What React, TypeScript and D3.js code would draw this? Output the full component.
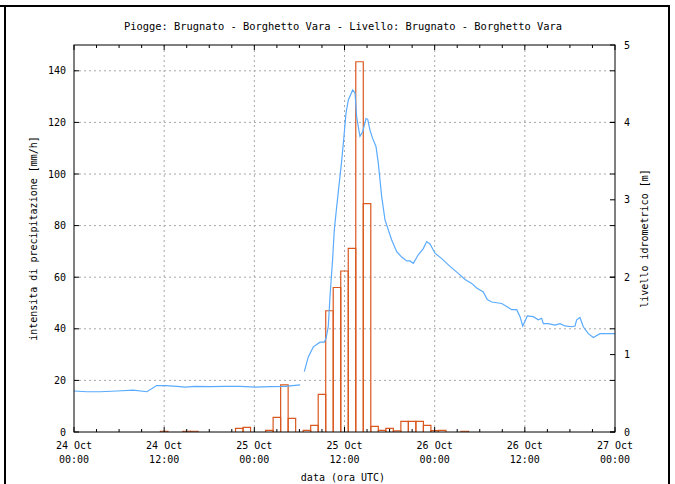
import React from "react";
import * as d3 from "d3";

// ---- data ----
const baseDate = Date.UTC(2011, 9, 24, 0, 0);
const title = "Piogge: Brugnato - Borghetto Vara - Livello: Brugnato - Borghetto Vara";
const yLabel = "intensita di precipitazione [mm/h]";
const y2Label = "livello idrometrico [m]";
const xLabel = "data (ora UTC)";

// hourly rain (hours from 24 Oct 00:00 UTC, mm/h)
const rainHours = [12, 15, 16, 22, 23, 26, 27, 28, 29, 31, 32, 33, 34, 35, 36, 37, 38, 39, 40, 41, 42, 43, 44, 45, 46, 47, 48, 49, 52];
const rainValues = [0.3, 0.3, 0.3, 1.4, 1.8, 0.6, 5.7, 18.3, 5.3, 0.6, 2.6, 14.6, 47, 56, 62.4, 71.2, 143.5, 88.5, 2.2, 0.6, 1.4, 0.4, 4.1, 4.1, 4.1, 2.6, 0.5, 0.6, 0.3];

// water level (hours from 24 Oct 00:00 UTC, m); null = data gap
const levelHours = [
  0, 1.7, 3.5, 5.7, 7.9, 9.7, 11.0, 12.2, 13.7, 14.8, 16.1, 18.1, 20.1, 22.1, 24.1, 26.1, 28.1, 29.1, 30.1,
  30.4,
  30.65, 31.18, 31.85, 32.74, 33.31, 33.54, 33.84, 34.07, 34.43, 34.64, 34.96, 35.63, 35.93, 36.2, 36.51,
  37.09, 37.4, 37.62, 37.84, 38.06, 38.42, 38.86, 39.09, 39.39, 39.75, 40.19, 40.5, 40.95, 41.39, 42.28,
  42.95, 43.61, 44.28, 44.72, 45.16, 45.82, 46.49, 46.94, 47.38, 48.04, 48.94, 50.04, 51.14, 52.04, 52.93,
  53.59, 54.47, 55.0, 55.59, 56.92, 57.8, 58.25, 58.92, 59.36, 59.72, 60.02, 60.33, 61.13, 61.79, 62.24,
  62.46, 63.12, 64.01, 64.68, 65.34, 66.24, 66.68, 66.9, 67.34, 67.78, 68.45, 69.11, 70.0, 72.0,
];
const levelValues: (number | null)[] = [
  0.53, 0.52, 0.52, 0.53, 0.54, 0.52, 0.6, 0.6, 0.59, 0.58, 0.59, 0.585, 0.59, 0.59, 0.58, 0.585, 0.59, 0.6, 0.61,
  null,
  0.78, 0.97, 1.1, 1.16, 1.16, 1.21, 1.36, 1.75, 2.25, 2.61, 2.91, 3.51, 3.82, 4.12, 4.29,
  4.42, 4.38, 4.07, 3.94, 3.82, 3.88, 4.05, 4.04, 3.9, 3.79, 3.69, 3.47, 3.04, 2.74, 2.48,
  2.33, 2.26, 2.21, 2.21, 2.18, 2.29, 2.37, 2.46, 2.43, 2.31, 2.24, 2.14, 2.05, 1.97, 1.92,
  1.86, 1.81, 1.71, 1.68, 1.66, 1.61, 1.58, 1.58, 1.49, 1.37, 1.43, 1.5, 1.49, 1.45, 1.47,
  1.4, 1.4, 1.38, 1.4, 1.37, 1.36, 1.37, 1.45, 1.48, 1.36, 1.27, 1.22, 1.27, 1.27,
];

const xTickHours = [0, 12, 24, 36, 48, 60, 72];
const xMinorHours = d3.range(0, 73, 3);
const yTicks = [0, 20, 40, 60, 80, 100, 120, 140];
const y2Ticks = [0, 1, 2, 3, 4, 5];

const W = 675, H = 484;
const m = { left: 74, right: 615, top: 45, bottom: 432 };
const FONT = "'DejaVu Sans Mono', monospace";

const hourToDate = (h: number) => new Date(baseDate + h * 3600 * 1000);

export default function App() {
  const x = d3.scaleUtc().domain([hourToDate(0), hourToDate(72)]).range([m.left, m.right]);
  const y = d3.scaleLinear().domain([0, 150]).range([m.bottom, m.top]);
  const y2 = d3.scaleLinear().domain([0, 5]).range([m.bottom, m.top]);
  const fmtDay = d3.utcFormat("%d %b");
  const fmtHour = d3.utcFormat("%H:%M");

  const levelData = levelHours.map((h, i) => ({ t: hourToDate(h), v: levelValues[i] }));
  const line = d3
    .line<{ t: Date; v: number | null }>()
    .defined((d) => d.v !== null)
    .x((d) => x(d.t))
    .y((d) => y2(d.v as number));

  const grid = "#a8a8a8";
  return (
    <svg width={W} height={H} style={{ position: "absolute", left: 0, top: 0, background: "#fff" }}>
      <rect x={0} y={0} width={W} height={H} fill="#fff" />
      {/* outer frame */}
      <line x1={0} y1={6} x2={670} y2={6} stroke="#000" strokeWidth={2} />
      <line x1={5} y1={6} x2={5} y2={H} stroke="#000" strokeWidth={2} />
      <line x1={669} y1={6} x2={669} y2={H} stroke="#000" strokeWidth={2} />

      <text x={343} y={30} fontFamily={FONT} fontSize={10.4} textAnchor="middle">{title}</text>

      {/* grid */}
      {yTicks.filter((t) => t > 0).map((t) => (
        <line key={"gy" + t} x1={m.left} x2={m.right} y1={y(t)} y2={y(t)} stroke={grid} strokeDasharray="2,3" />
      ))}
      {xTickHours.filter((h) => h > 0 && h < 72).map((h) => (
        <line key={"gx" + h} x1={x(hourToDate(h))} x2={x(hourToDate(h))} y1={m.top} y2={m.bottom} stroke={grid} strokeDasharray="2,3" />
      ))}

      {/* rain bars */}
      {rainHours.map((h, i) => {
        const x0 = x(hourToDate(h - 0.5));
        const x1 = x(hourToDate(h + 0.5));
        const yt = y(rainValues[i]);
        return (
          <path key={"b" + i} d={`M${x0},${m.bottom}V${yt}H${x1}V${m.bottom}`} fill="none" stroke="#d9581f" strokeWidth={1.2} />
        );
      })}

      {/* level line */}
      <path d={line(levelData) || ""} fill="none" stroke="#5aabff" strokeWidth={1.2} />

      {/* axes frame */}
      <rect x={m.left} y={m.top} width={m.right - m.left} height={m.bottom - m.top} fill="none" stroke="#000" strokeWidth={1} />

      {/* x ticks */}
      {xMinorHours.map((h) => {
        const xx = x(hourToDate(h));
        const major = h % 12 === 0;
        const len = major ? 5 : 3;
        return (
          <g key={"xt" + h}>
            <line x1={xx} x2={xx} y1={m.bottom} y2={m.bottom - len} stroke="#000" />
            <line x1={xx} x2={xx} y1={m.top} y2={m.top + len} stroke="#000" />
          </g>
        );
      })}
      {xTickHours.map((h) => {
        const d = hourToDate(h);
        return (
          <g key={"xl" + h} fontFamily={FONT} fontSize={10} textAnchor="middle">
            <text x={x(d)} y={449}>{fmtDay(d)}</text>
            <text x={x(d)} y={463}>{fmtHour(d)}</text>
          </g>
        );
      })}
      <text x={343} y={481} fontFamily={FONT} fontSize={10} textAnchor="middle">{xLabel}</text>

      {/* y ticks */}
      {yTicks.map((t) => (
        <g key={"yt" + t}>
          <line x1={m.left} x2={m.left + 5} y1={y(t)} y2={y(t)} stroke="#000" />
          <line x1={m.right} x2={m.right - 5} y1={y(t)} y2={y(t)} stroke="#000" />
          <text x={66} y={y(t) + 3.5} fontFamily={FONT} fontSize={10} textAnchor="end">{t}</text>
        </g>
      ))}
      <text transform={`translate(37,${(m.top + m.bottom) / 2}) rotate(-90)`} fontFamily={FONT} fontSize={10} textAnchor="middle">{yLabel}</text>

      {/* y2 ticks */}
      {y2Ticks.map((t) => (
        <g key={"y2t" + t}>
          <line x1={m.right} x2={m.right - 5} y1={y2(t)} y2={y2(t)} stroke="#000" />
          <text x={624} y={y2(t) + 3.5} fontFamily={FONT} fontSize={10} textAnchor="start">{t}</text>
        </g>
      ))}
      <text transform={`translate(648,${(m.top + m.bottom) / 2}) rotate(-90)`} fontFamily={FONT} fontSize={10} textAnchor="middle">{y2Label}</text>
    </svg>
  );
}
